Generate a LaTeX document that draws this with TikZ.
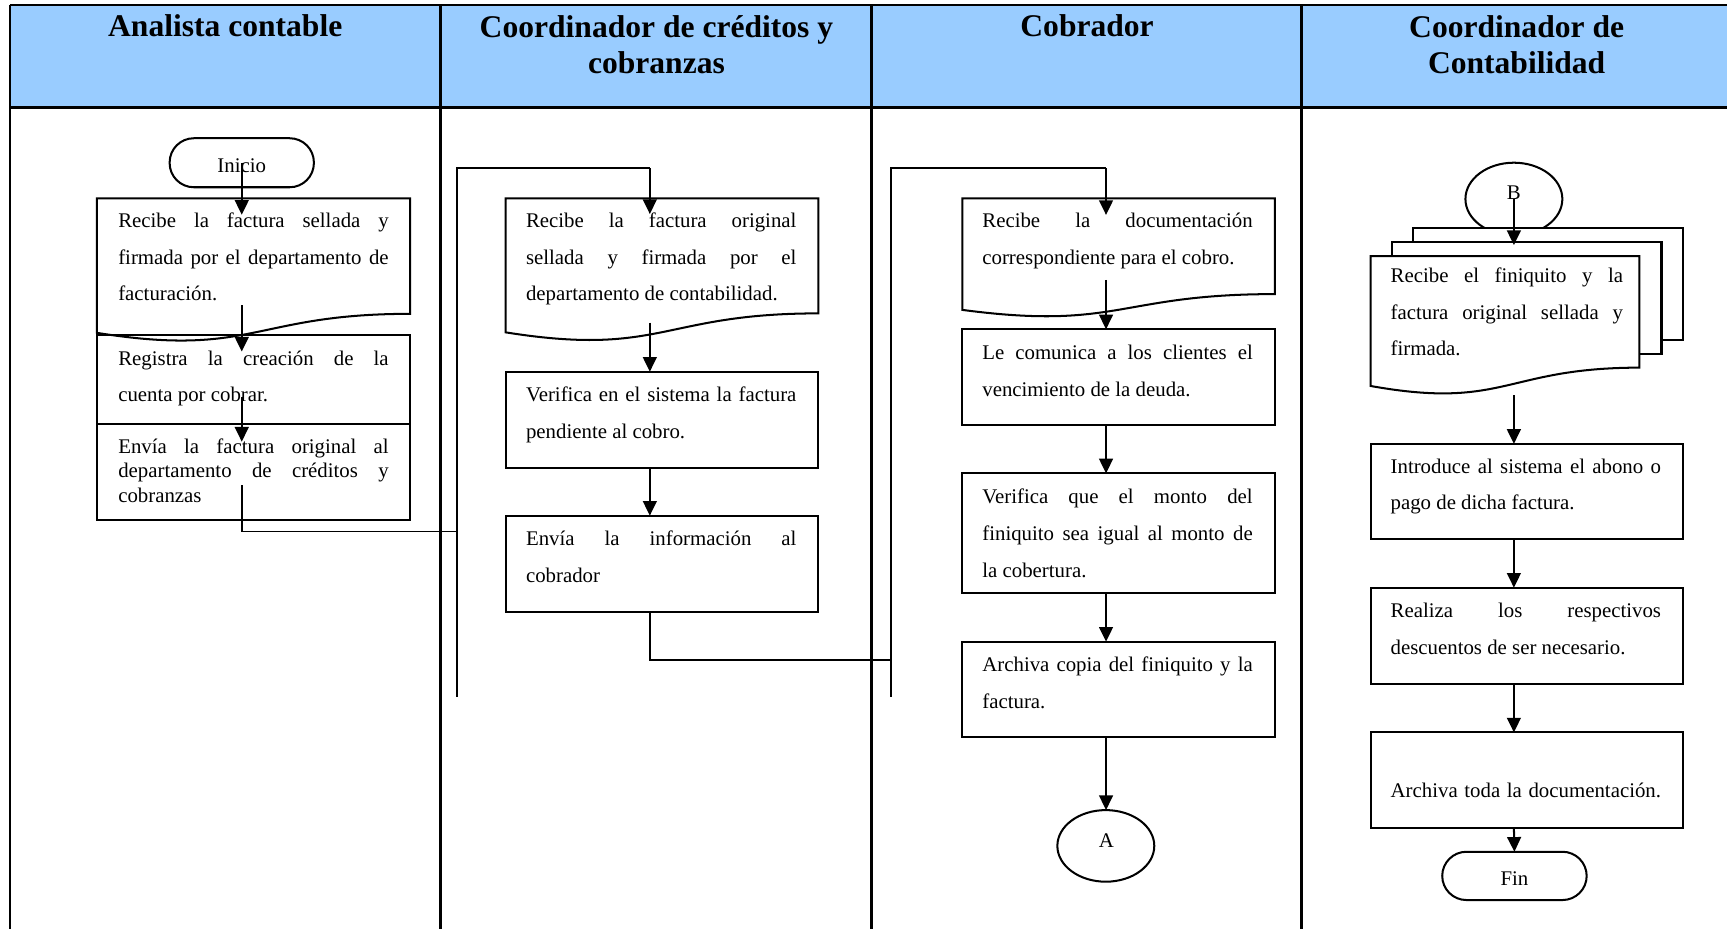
\documentclass[tikz,border=0pt]{standalone}
\usepackage{fontspec}
\setmainfont{Liberation Serif}
\usetikzlibrary{arrows.meta,calc,shapes.geometric}
\definecolor{hdrblue}{HTML}{99CCFF}
% one justified line of a box text (normal, stretchable interword spaces)
\newcommand\jl[1]{{\spaceskip=0pt\xspaceskip=0pt\makebox[\hsize][s]{#1}}}
% outline of a flowchart "document" shape laid over a plain node
\newcommand\docoutline[2][]{%
  \draw[shapeline,#1] (#2.north west) -- (#2.north east)
    -- ($(#2.north east)!0.802!(#2.south east)$)
    .. controls ($(#2.north)!0.802!(#2.south)$) and ($(#2.north)!1.1075!(#2.south)$) ..
    ($(#2.north west)!0.934!(#2.south west)$) -- cycle;}
\begin{document}
\begin{tikzpicture}[x=0.6pt,y=-0.6pt,
  lane/.style={line width=1.4pt},
  shapeline/.style={line width=1.1pt},
  box/.style={draw,shapeline,rectangle,inner sep=0pt,outer sep=0pt,anchor=north west},
  docarea/.style={rectangle,inner sep=0pt,outer sep=0pt,anchor=north west},
  txt/.style={anchor=north west,inner sep=0pt,outer sep=0pt,text width=147.3pt,align=flush left,
    font=\fontsize{11.35}{20}\selectfont,execute at begin node={\rule{0pt}{10pt}}},
  hdr/.style={anchor=north,inner sep=0pt,align=center,
    font=\fontsize{17.2}{19.8}\selectfont\bfseries,execute at begin node={\rule{0pt}{14pt}}},
  term/.style={draw,shapeline,rectangle,rounded corners=13.2pt,inner sep=0pt,outer sep=0pt},
  conn/.style={draw,shapeline,ellipse,inner sep=0pt,outer sep=0pt,minimum width=52.8pt},
  lbl/.style={anchor=base,inner sep=0pt,font=\fontsize{11.35}{14}\selectfont},
  arr/.style={line width=1.1pt,-{Triangle[length=8pt,width=7.5pt]}},
  bus/.style={line width=0.95pt}]
\useasboundingbox (0,0) rectangle (1568,843);
\clip (0,0) rectangle (1568,843);

% swimlane table
\fill[hdrblue] (9,4.5) rectangle (1580,97.5);
\draw[lane] (9,4.5) -- (1580,4.5);
\draw[lane] (9,97.5) -- (1580,97.5);
\foreach \x in {9,400.1,791.4,1181.8} \draw[lane] (\x,4.5) -- (\x,860);

\node[hdr] (h1) at (204.5,9.7) {Analista contable};
\node[hdr] (h2) at (596,13.7) {Coordinador de créditos y\\cobranzas};
\node[hdr] (h3) at (987,9.7) {Cobrador};
\node[hdr] (h4) at (1377,13.7) {Coordinador de\\Contabilidad};

% ---- Analista contable
\node[term,minimum width=78.6pt,minimum height=26.7pt] (ini) at (219.5,147.75) {};
\node[lbl] (initxt) at (219.5,156.8) {Inicio};
\node[docarea,minimum width=170.6pt,minimum height=78.5pt] (a1) at (88,180) {};
\docoutline{a1}
\node[box,minimum width=170.6pt,minimum height=48.5pt] (a2) at (88,304.2) {};
\node[box,minimum width=170.6pt,minimum height=52.2pt] (a3) at (88,385) {};
\node[txt] (a1t) at (107.4,189.8) {\jl{Recibe la factura sellada y}\\\jl{firmada por el departamento de}\\facturación.};
\node[txt] (a2t) at (107.4,314.8) {\jl{Registra la creación de la}\\cuenta por cobrar.};
\node[txt,font=\fontsize{11.35}{13.5}\selectfont] (a3t) at (107.4,394.8) {\jl{Envía la factura original al}\\\jl{departamento de créditos y}\\cobranzas};

\draw[arr] (ini.center) -- ([yshift=-9pt]ini.center |- a1.north);
\draw[arr] ([yshift=20.3pt]ini.center |- a1.south) -- ([yshift=-9pt]ini.center |- a2.north);
\draw[arr] ([yshift=15pt]ini.center |- a2.south) -- ([yshift=-9.6pt]ini.center |- a3.north);

% ---- Coordinador de creditos y cobranzas
\coordinate (xb) at (590,0);
\coordinate (jA) at (415.2,482.5);
\coordinate (busA) at (415.2,632.5);
\coordinate (busAtop) at (415.2,152.8);
\draw[bus] ([yshift=19pt]ini.center |- a3.south) -- (ini.center |- jA) -- (jA);
\draw[bus] (busA) -- (busAtop) -- (xb |- busAtop);

\node[docarea,minimum width=170.4pt,minimum height=78.2pt] (b1) at (459,180) {};
\docoutline{b1}
\node[box,minimum width=170.4pt,minimum height=52.3pt] (b2) at (459,337.5) {};
\node[box,minimum width=170.4pt,minimum height=52.3pt] (b3) at (459,468.2) {};
\node[txt] (b1t) at (477.6,189.8) {\jl{Recibe la factura original}\\\jl{sellada y firmada por el}\\departamento de contabilidad.};
\node[txt] (b2t) at (477.6,347.8) {\jl{Verifica en el sistema la factura}\\pendiente al cobro.};
\node[txt] (b3t) at (477.6,478.8) {\jl{Envía la información al}\\cobrador};

\draw[arr] (xb |- busAtop) -- ([yshift=-8.6pt]xb |- b1.north);
\draw[arr] ([yshift=10.4pt]xb |- b1.south) -- (xb |- b2.north);
\draw[arr] (xb |- b2.south) -- (xb |- b3.north);

% ---- Cobrador
\coordinate (xc) at (1004.2,0);
\coordinate (jB) at (808.7,599);
\coordinate (busB) at (808.7,632.5);
\coordinate (busBtop) at (808.7,152.8);
\draw[bus] (xb |- b3.south) -- (xb |- jB) -- (jB);
\draw[bus] (busB) -- (busBtop) -- (xc |- busBtop);

\node[docarea,minimum width=170.3pt,minimum height=65.1pt] (c1) at (873.7,180) {};
\docoutline{c1}
\node[box,minimum width=170.3pt,minimum height=52.2pt] (c2) at (873.7,299) {};
\node[box,minimum width=170.3pt,minimum height=65.2pt] (c3) at (873.7,429.8) {};
\node[box,minimum width=170.3pt,minimum height=52.1pt] (c4) at (873.7,582.6) {};
\node[conn,minimum height=39pt] (A) at (1004,768) {};
\node[lbl] (Atxt) at (1004.5,769.6) {A};
\node[txt] (c1t) at (891.9,189.8) {\jl{Recibe la documentación}\\correspondiente para el cobro.};
\node[txt] (c2t) at (891.9,309.8) {\jl{Le comunica a los clientes el}\\vencimiento de la deuda.};
\node[txt] (c3t) at (891.9,440.8) {\jl{Verifica que el monto del}\\\jl{finiquito sea igual al monto de}\\la cobertura.};
\node[txt] (c4t) at (891.9,592.8) {\jl{Archiva copia del finiquito y la}\\factura.};

\draw[arr] (xc |- busBtop) -- ([yshift=-9.1pt]xc |- c1.north);
\draw[arr] ([yshift=20.6pt]xc |- c1.south) -- (xc |- c2.north);
\draw[arr] (xc |- c2.south) -- (xc |- c3.north);
\draw[arr] (xc |- c3.south) -- (xc |- c4.north);
\draw[arr] (xc |- c4.south) -- (xc |- A.north);

% ---- Coordinador de Contabilidad
\node[conn,minimum height=39.6pt] (B) at (1374.5,180.7) {};
\node[box,fill=white,minimum width=147pt,minimum height=61.4pt] (d1c) at (1283,206.7) {};
\node[box,fill=white,minimum width=146.7pt,minimum height=60.9pt] (d1b) at (1264,220) {};
\node[docarea,minimum width=146.4pt,minimum height=75.7pt] (d1) at (1244.5,232.6) {};
\docoutline[fill=white]{d1}
\node[lbl] (Btxt) at (1374.5,181) {B};
\node[txt,text width=126.6pt] (d1t) at (1262.6,239.8) {\jl{Recibe el finiquito y la}\\\jl{factura original sellada y}\\firmada.};
\node[box,minimum width=170.1pt,minimum height=52pt] (d2) at (1244.5,403) {};
\node[box,minimum width=170.1pt,minimum height=52.4pt] (d3) at (1244.5,533.6) {};
\node[box,minimum width=170.1pt,minimum height=51.9pt] (d4) at (1244.5,665) {};
\node[term,minimum width=78.7pt,minimum height=26.3pt] (fin) at (1375,795.25) {};
\node[lbl] (fintxt) at (1375,804) {Fin};
\node[txt] (d2t) at (1262.6,412.8) {\jl{Introduce al sistema el abono o}\\pago de dicha factura.};
\node[txt] (d3t) at (1262.6,543.8) {\jl{Realiza los respectivos}\\descuentos de ser necesario.};
\node[txt] (d4t) at (1262.6,707.8) {\jl{Archiva toda la documentación.}};

\draw[arr] (B.center) -- ([yshift=-1.5pt]B.center |- d1b.north);
\draw[arr] (B.center |- d1.south) -- (B.center |- d2.north);
\draw[arr] (B.center |- d2.south) -- (B.center |- d3.north);
\draw[arr] (B.center |- d3.south) -- (B.center |- d4.north);
\draw[arr] (B.center |- d4.south) -- (fin.north);
\end{tikzpicture}
\end{document}
